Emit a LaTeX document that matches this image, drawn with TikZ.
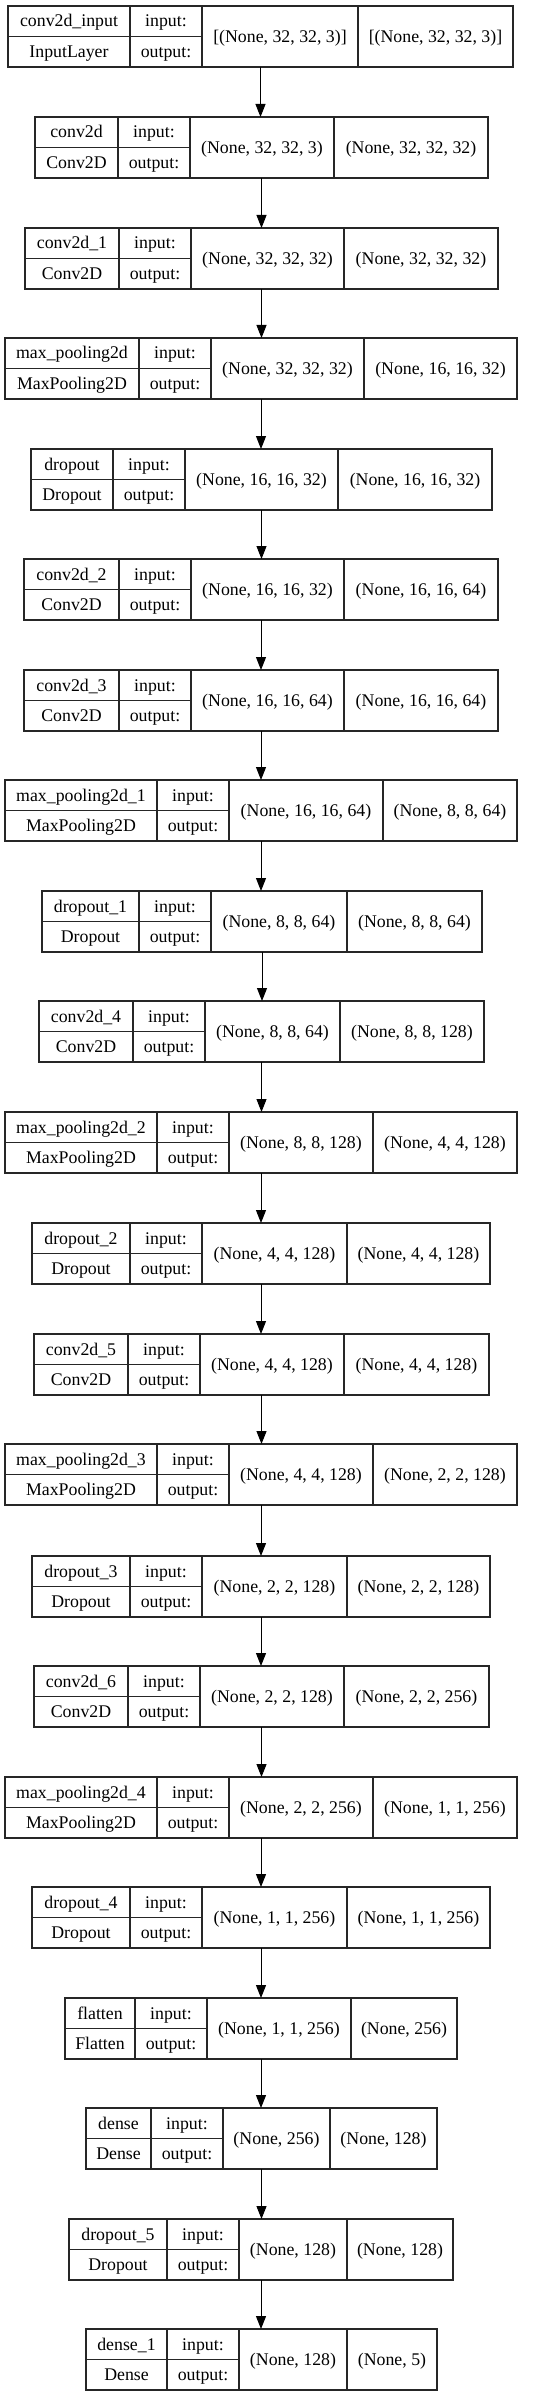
\documentclass[tikz,border=0pt]{standalone}
\usepackage{fontspec}
\setmainfont{Liberation Serif}
\usetikzlibrary{arrows.meta}
\tikzset{
  layerbox/.style={draw=black!85, line width=1.3pt, inner sep=0pt, outer sep=0pt, anchor=north west},
  divider/.style={draw=black!85, line width=1.3pt},
  lbl/.style={inner sep=0pt, anchor=base, font=\fontsize{17.8}{20}\selectfont},
  arr/.style={draw=black, line width=1pt, -{Triangle[length=13pt,width=10pt]}}
}
\begin{document}
\begin{tikzpicture}[x=1pt,y=-1pt]
\useasboundingbox (0,0) rectangle (541,2397);
\foreach \n/\t/\l/\a/\b/\c/\r/\nm/\cl/\ins/\outs in {
 0/6/8/130/202/358/513/{conv2d\_input}/{InputLayer}/{[(None, 32, 32, 3)]}/{[(None, 32, 32, 3)]},
 1/117/35/118/190/334/488/{conv2d}/{Conv2D}/{(None, 32, 32, 3)}/{(None, 32, 32, 32)},
 2/228/25/119/191/344/498/{conv2d\_1}/{Conv2D}/{(None, 32, 32, 32)}/{(None, 32, 32, 32)},
 3/338/5/139/211/364/517/{max\_pooling2d}/{MaxPooling2D}/{(None, 32, 32, 32)}/{(None, 16, 16, 32)},
 4/449/31/113/185/338/492/{dropout}/{Dropout}/{(None, 16, 16, 32)}/{(None, 16, 16, 32)},
 5/559/24/119/191/344/498/{conv2d\_2}/{Conv2D}/{(None, 16, 16, 32)}/{(None, 16, 16, 64)},
 6/670/24/119/191/344/498/{conv2d\_3}/{Conv2D}/{(None, 16, 16, 64)}/{(None, 16, 16, 64)},
 7/780/5/157/229/383/517/{max\_pooling2d\_1}/{MaxPooling2D}/{(None, 16, 16, 64)}/{(None, 8, 8, 64)},
 8/891/42/139/211/347/482/{dropout\_1}/{Dropout}/{(None, 8, 8, 64)}/{(None, 8, 8, 64)},
 9/1001/39/133/205/340/484/{conv2d\_4}/{Conv2D}/{(None, 8, 8, 64)}/{(None, 8, 8, 128)},
 10/1112/5/157/229/373/517/{max\_pooling2d\_2}/{MaxPooling2D}/{(None, 8, 8, 128)}/{(None, 4, 4, 128)},
 11/1223/32/130/202/347/490/{dropout\_2}/{Dropout}/{(None, 4, 4, 128)}/{(None, 4, 4, 128)},
 12/1334/34/128/200/344/489/{conv2d\_5}/{Conv2D}/{(None, 4, 4, 128)}/{(None, 4, 4, 128)},
 13/1444/5/157/229/373/517/{max\_pooling2d\_3}/{MaxPooling2D}/{(None, 4, 4, 128)}/{(None, 2, 2, 128)},
 14/1556/32/130/202/347/490/{dropout\_3}/{Dropout}/{(None, 2, 2, 128)}/{(None, 2, 2, 128)},
 15/1666/34/128/200/344/489/{conv2d\_6}/{Conv2D}/{(None, 2, 2, 128)}/{(None, 2, 2, 256)},
 16/1777/5/157/229/373/517/{max\_pooling2d\_4}/{MaxPooling2D}/{(None, 2, 2, 256)}/{(None, 1, 1, 256)},
 17/1887/32/130/202/347/490/{dropout\_4}/{Dropout}/{(None, 1, 1, 256)}/{(None, 1, 1, 256)},
 18/1998/65/135/207/351/457/{flatten}/{Flatten}/{(None, 1, 1, 256)}/{(None, 256)},
 19/2108/86/151/223/330/437/{dense}/{Dense}/{(None, 256)}/{(None, 128)},
 20/2219/69/167/239/347/453/{dropout\_5}/{Dropout}/{(None, 128)}/{(None, 128)},
 21/2329/86/167/239/347/437/{dense\_1}/{Dense}/{(None, 128)}/{(None, 5)}
}{
  \pgfmathsetlengthmacro\bw{(\r-\l)*1pt}
  \node[layerbox, minimum width=\bw, minimum height=61pt] (L\n) at (\l,\t) {};
  \draw[divider] (\a,\t) -- (\a,{\t+61});
  \draw[divider] (\b,\t) -- (\b,{\t+61});
  \draw[divider] (\c,\t) -- (\c,{\t+61});
  \draw[divider] (\l,{\t+30.5}) -- (\b,{\t+30.5});
  \node[lbl] (N\n) at ({(\l+\a)/2},{\t+21}) {\nm};
  \node[lbl] (C\n) at ({(\l+\a)/2},{\t+51.5}) {\cl};
  \node[lbl] (I\n) at ({(\a+\b)/2},{\t+21}) {input:};
  \node[lbl] (O\n) at ({(\a+\b)/2},{\t+51.5}) {output:};
  \node[lbl] (S\n) at ({(\b+\c)/2},{\t+36.5}) {\ins};
  \node[lbl] (T\n) at ({(\c+\r)/2},{\t+36.5}) {\outs};
}
\foreach \i [evaluate=\i as \j using int(\i+1)] in {0,...,20}{
  \draw[arr] (L\i.south) -- (L\i.south |- L\j.north);
}
\end{tikzpicture}
\end{document}
